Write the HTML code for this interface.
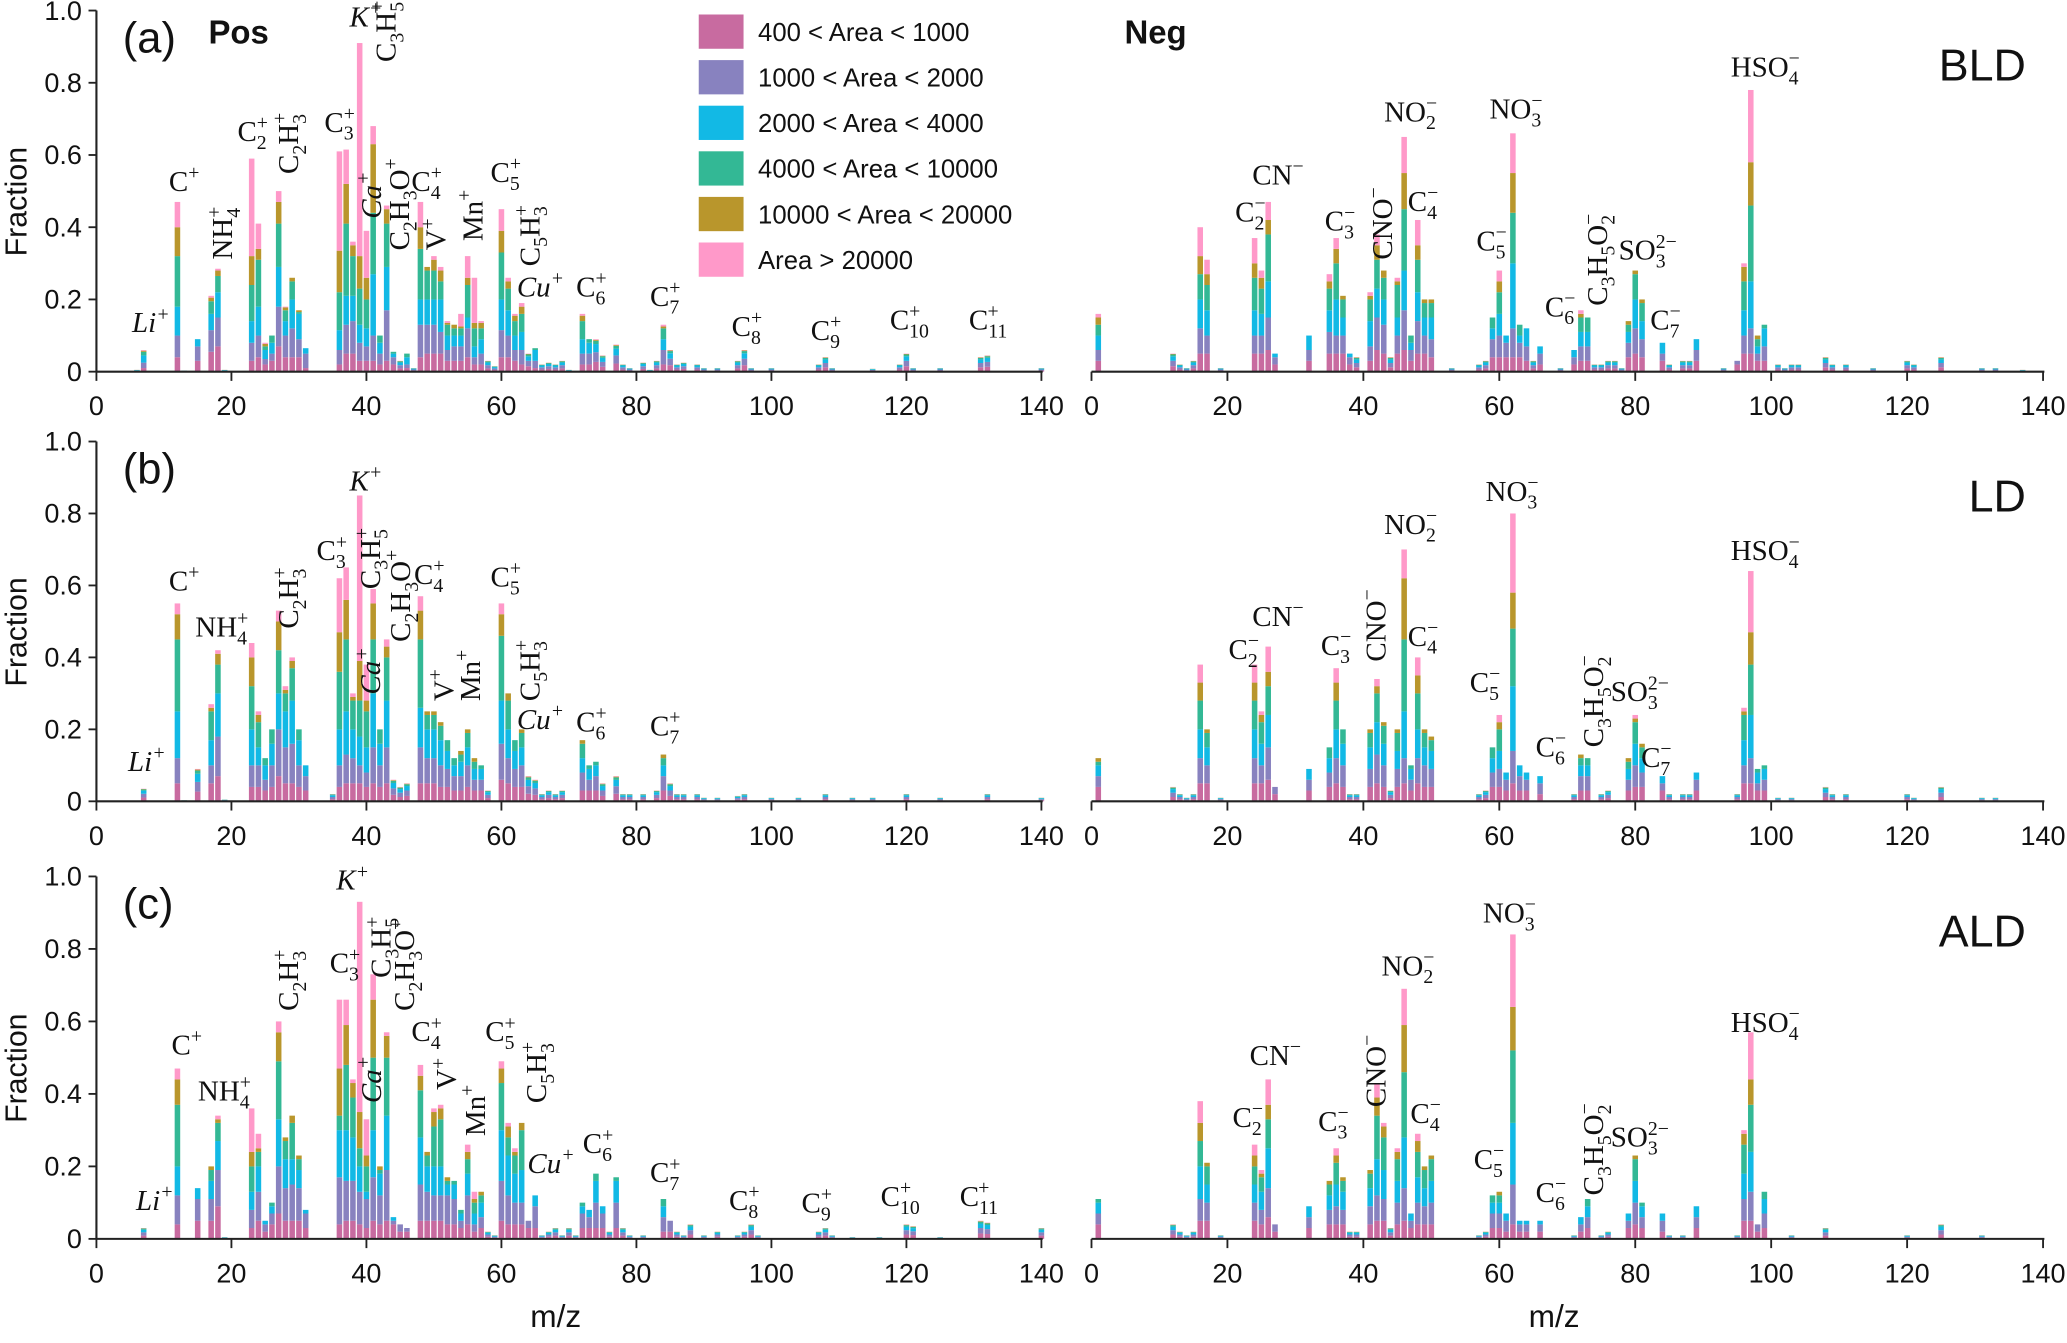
<!DOCTYPE html>
<html><head><meta charset="utf-8">
<style>
html,body{margin:0;padding:0;background:#fff;}
svg{display:block;}
.tk{font-family:"Liberation Sans",sans-serif;font-size:20.5px;fill:#111;}
.lab{font-family:"Liberation Serif",serif;font-size:22px;fill:#111;}
</style></head>
<body>
<svg id="chart" width="2067" height="1343" viewBox="0 0 1568 1019" xmlns="http://www.w3.org/2000/svg">
<g id="bars"></g>
<g id="axes"></g>
<g id="labels"></g>
</svg>
<script>
// ---------- DATA (cumulative stack tops: 400-1000, 1000-2000, 2000-4000, 4000-10000, 10000-20000, >20000) ----------
const xTicks = [0,20,40,60,80,100,120,140];
const yTicks = [0,0.2,0.4,0.6,0.8,1.0];
const yTickLabels = ["0","0.2","0.4","0.6","0.8","1.0"];
const legendLabels = ["400 < Area < 1000","1000 < Area < 2000","2000 < Area < 4000","4000 < Area < 10000","10000 < Area < 20000","Area > 20000"];
const defaultProfile = [0.3,0.6,0.85,0.95,0.98,1];

const posA = [[6,.005],[7,.01,.025,.045,.055,.058,.06],[12,.04,.1,.18,.32,.4,.47],[13,.003],[15,.03,.07,.09],[17,.055,.115,.16,.195,.205,.21],[18,.07,.15,.22,.265,.28,.285],[19,.005],[22,.002],[23,.03,.08,.14,.24,.32,.59],[24,.04,.1,.18,.31,.34,.41],[25,.02,.035,.06,.07,.077,.08],[26,.03,.05,.08,.1],[27,.07,.18,.29,.41,.47,.5],[28,.04,.1,.14,.17,.178,.18],[29,.04,.12,.2,.25,.26],[30,.04,.09,.16,.165,.17],[31,.01,.05,.065],[36,.02,.06,.115,.22,.335,.61],[37,.05,.13,.21,.41,.52,.615],[38,.05,.14,.21,.32,.35,.36],[39,.03,.08,.13,.23,.32,.91],[40,.03,.07,.12,.2,.26,.39],[41,.03,.1,.27,.44,.63,.68],[42,.02,.05,.08,.1],[43,.03,.17,.29,.41,.45,.46],[44,.02,.04,.05,.055],[45,.03],[46,.01,.02,.04,.05],[47,.01],[48,.04,.13,.2,.34,.4,.47],[49,.05,.13,.2,.28,.29],[50,.05,.13,.2,.28,.31,.32],[51,.05,.11,.2,.25,.28,.29],[52,.03,.06,.1,.13,.135,.14],[53,.03,.07,.1,.12,.13],[54,.03,.07,.1,.12,.125,.16],[55,.04,.12,.15,.24,.26,.32],[56,.02,.04,.07,.12,.135,.26],[57,.02,.05,.09,.12,.135,.14],[58,.03],[59,.015],[60,.04,.115,.2,.33,.39,.45],[61,.04,.1,.17,.23,.25,.26],[62,.03,.06,.1,.14,.155,.16],[63,.02,.06,.11,.16,.18,.19],[64,.05],[65,.01,.03,.06,.065],[66,.02],[67,.025],[68,.02],[69,.03],[70,.005],[72,.02,.05,.09,.14,.155,.16],[73,.02,.05,.08,.09],[74,.09],[75,.045],[77,.075],[78,.02],[79,.01],[81,.025],[82,.005],[83,.03],[84,.02,.06,.09,.12,.125,.13],[85,.06],[86,.02],[87,.025],[89,.02],[90,.01],[92,.01],[95,.03],[96,.06],[97,.01],[100,.01],[107,.02],[108,.04],[109,.01],[115,.008],[119,.02],[120,.05],[121,.01],[125,.01],[131,.04],[132,.045],[140,.01]];

const negA = [[1,.03,.06,.1,.13,.15,.16],[12,.05],[13,.02],[14,.01],[15,.03],[16,.05,.12,.2,.27,.32,.4],[17,.05,.1,.17,.24,.27,.31],[19,.01],[24,.05,.1,.17,.26,.3,.37],[25,.05,.1,.16,.23,.26,.28],[26,.06,.15,.25,.38,.42,.47],[27,.02,.04,.05],[32,.03,.06,.1],[35,.05,.11,.17,.23,.25,.27],[36,.05,.1,.2,.3,.34,.37],[37,.05,.1,.15,.2,.21],[38,.02,.04,.05],[39,.04],[41,.03,.07,.14,.2,.21,.22],[42,.06,.15,.23,.31,.35,.38],[43,.05,.13,.2,.26,.28],[44,.04],[45,.05,.1,.15,.24,.25,.26],[46,.06,.17,.28,.45,.55,.65],[47,.03,.06,.08,.1],[48,.05,.14,.22,.31,.35,.42],[49,.05,.1,.15,.19,.2],[50,.04,.09,.15,.19,.2],[53,.01],[57,.02],[58,.03],[59,.04,.09,.12,.15],[60,.04,.1,.16,.22,.25,.28],[61,.04,.08,.1],[62,.04,.12,.3,.44,.55,.66],[63,.04,.08,.1,.13],[64,.03,.07,.12],[65,.03],[66,.02,.05,.07],[69,.01],[71,.02,.04,.06],[72,.03,.07,.11,.15,.16,.17],[73,.03,.07,.11,.15],[74,.02],[75,.02],[76,.03],[77,.03],[78,.01],[79,.04,.08,.11,.13,.14],[80,.05,.12,.2,.27,.28],[81,.04,.09,.14,.19,.2],[84,.03,.05,.08],[85,.02],[87,.03],[88,.03],[89,.03,.06,.09],[93,.01],[95,.02,.03],[96,.05,.1,.17,.25,.29,.3],[97,.05,.12,.25,.46,.58,.78],[98,.03,.05,.07,.09,.1],[99,.03,.07,.12,.13],[101,.02],[102,.01],[103,.02],[104,.02],[108,.04],[109,.02],[111,.02],[115,.01],[120,.03],[121,.02],[125,.04],[131,.01],[133,.01],[137,.005]];

const posB = [[7,.035],[12,.05,.12,.25,.45,.52,.55],[13,.003],[15,.09],[17,.05,.1,.17,.25,.26,.27],[18,.07,.18,.3,.38,.41,.42],[19,.005],[23,.04,.1,.2,.32,.4,.44],[24,.04,.1,.15,.22,.24,.25],[25,.03,.06,.1,.12],[26,.04,.1,.16,.2],[27,.07,.2,.3,.42,.5,.53],[28,.05,.15,.25,.3,.31,.32],[29,.05,.16,.28,.37,.39,.4],[30,.04,.1,.17,.2],[31,.03,.07,.1],[35,.02],[36,.04,.1,.2,.36,.47,.62],[37,.05,.13,.25,.45,.56,.65],[38,.05,.12,.2,.28,.29,.3],[39,.05,.1,.18,.28,.39,.85],[40,.04,.08,.15,.25,.28,.38],[41,.05,.15,.3,.45,.55,.59],[42,.04,.1,.16,.2],[43,.05,.15,.28,.4,.43,.45],[44,.06],[45,.04],[46,.05],[48,.05,.15,.26,.45,.53,.57],[49,.05,.12,.2,.24,.25],[50,.05,.12,.2,.24,.25],[51,.04,.1,.17,.21,.22],[52,.04,.09,.14,.17],[53,.03,.07,.1,.12],[54,.03,.07,.11,.13,.14],[55,.04,.1,.15,.19,.2],[56,.03,.06,.09,.11,.12],[57,.03,.06,.09,.1],[58,.03],[60,.06,.16,.28,.46,.52,.55],[61,.05,.12,.2,.28,.3],[62,.04,.09,.14,.17],[63,.04,.1,.15,.19,.2],[64,.07],[65,.06],[66,.02],[67,.03],[68,.02],[69,.03],[72,.03,.08,.12,.16,.17],[73,.03,.06,.09,.1],[74,.03,.07,.1,.11],[75,.05],[77,.07],[78,.02],[79,.02],[81,.02],[83,.03],[84,.03,.07,.1,.12,.13],[85,.05],[86,.02],[87,.02],[89,.02],[90,.01],[92,.01],[95,.015],[96,.02],[100,.01],[104,.01],[108,.02],[112,.01],[115,.01],[120,.02],[125,.01],[132,.02],[140,.01]];

const negB = [[1,.04,.07,.1,.11,.12],[12,.04],[13,.02],[14,.01],[15,.02],[16,.05,.12,.2,.28,.33,.38],[17,.05,.1,.15,.19,.2],[19,.01],[24,.05,.12,.2,.28,.33,.38],[25,.05,.1,.16,.22,.24,.25],[26,.06,.15,.24,.32,.36,.43],[27,.02,.04],[32,.03,.06,.09],[35,.04,.08,.12,.15],[36,.05,.12,.2,.28,.33,.37],[37,.04,.1,.16,.2],[38,.02],[39,.02],[41,.04,.09,.15,.19,.2],[42,.05,.13,.22,.3,.32,.34],[43,.04,.1,.16,.21,.22],[44,.03],[45,.04,.09,.14,.19,.2],[46,.05,.12,.25,.45,.62,.7],[47,.03,.06,.09,.1],[48,.05,.12,.2,.3,.35,.4],[49,.04,.1,.15,.19,.2],[50,.04,.09,.14,.17,.18],[57,.02],[58,.03],[59,.04,.08,.12,.15],[60,.04,.09,.14,.2,.22,.24],[61,.03,.06,.08],[62,.05,.14,.32,.48,.58,.8],[63,.03,.07,.1],[64,.03,.06,.08],[66,.02,.05,.07],[71,.02],[72,.03,.07,.1,.12,.13],[73,.03,.07,.1,.12],[75,.02],[76,.03],[79,.03,.06,.09,.11,.12],[80,.04,.1,.16,.22,.23,.24],[81,.04,.08,.12,.15,.16],[84,.03,.05,.07],[85,.02],[87,.02],[88,.02],[89,.03,.06,.08],[95,.02],[96,.05,.1,.17,.24,.25,.26],[97,.05,.12,.24,.38,.47,.64],[98,.03,.05,.08,.09],[99,.03,.06,.09,.1],[101,.01],[103,.01],[108,.04],[109,.02],[111,.02],[120,.02],[121,.01],[125,.04],[131,.01],[133,.01]];

const posC = [[7,.03],[12,.04,.12,.2,.37,.44,.47],[15,.05,.11,.14],[17,.05,.11,.16,.19,.2],[18,.09,.19,.27,.32,.33,.34],[19,.005],[23,.03,.08,.13,.2,.24,.36],[24,.05,.13,.2,.24,.25,.29],[25,.02,.04,.05],[26,.04,.07,.09,.1],[27,.07,.2,.33,.49,.57,.6],[28,.05,.14,.22,.27,.28],[29,.05,.15,.22,.32,.34],[30,.05,.14,.19,.22,.23],[31,.03,.07,.08],[36,.04,.17,.3,.34,.47,.66],[37,.05,.16,.3,.48,.59,.66],[38,.05,.16,.28,.39,.43,.44],[39,.04,.13,.2,.25,.35,.93],[40,.03,.11,.13,.2,.23,.33],[41,.05,.17,.3,.5,.66,.73],[42,.04,.12,.18,.19,.2],[43,.05,.19,.34,.5,.56,.57],[44,.04,.05,.06],[45,.02,.04],[46,.02,.03],[48,.05,.15,.28,.41,.45,.48],[49,.05,.13,.2,.23,.24],[50,.05,.12,.2,.31,.35,.36],[51,.05,.12,.2,.33,.36,.37],[52,.04,.12,.15,.16,.17],[53,.04,.11,.15,.16],[54,.03,.05,.07,.08],[55,.04,.12,.18,.22,.24,.26],[56,.02,.04,.07,.1,.11,.13],[57,.03,.06,.1,.12,.13],[58,.02],[59,.01],[60,.05,.16,.3,.43,.47,.49],[61,.04,.12,.23,.28,.31,.32],[62,.04,.1,.18,.23,.24,.25],[63,.04,.1,.19,.3,.32,.32],[64,.03,.05],[65,.03,.09,.12],[66,.01],[67,.02],[68,.03],[69,.01],[70,.03],[71,.01],[72,.03,.07,.09,.1],[73,.03,.06,.08],[74,.03,.1,.16,.18],[75,.03,.07,.09],[76,.02],[77,.03,.1,.16,.17],[78,.03],[79,.01],[81,.01],[84,.02,.06,.09,.11],[85,.02,.05],[86,.02],[87,.01],[88,.04],[90,.01],[92,.02],[95,.01],[96,.02],[97,.04],[98,.01],[107,.02],[108,.03],[109,.01],[112,.005],[116,.005],[120,.04],[121,.035],[125,.005],[131,.05],[132,.045],[140,.03]];

const negC = [[1,.04,.07,.1,.11],[12,.04],[13,.02],[14,.01],[15,.02],[16,.05,.11,.2,.27,.32,.38],[17,.05,.1,.15,.2,.21],[19,.01],[24,.05,.1,.15,.2,.23,.26],[25,.04,.08,.13,.17,.18,.19],[26,.06,.14,.25,.33,.37,.44],[27,.02,.04],[32,.03,.06,.09],[35,.04,.08,.12,.15,.16],[36,.04,.09,.15,.21,.23,.25],[37,.04,.08,.13,.16,.17],[38,.02],[39,.02],[41,.04,.09,.14,.18,.19],[42,.05,.12,.22,.34,.39,.43],[43,.05,.11,.19,.28,.31,.32],[44,.03],[45,.04,.1,.16,.22,.24,.25],[46,.05,.14,.28,.46,.59,.69],[47,.03,.05,.07],[48,.04,.1,.17,.24,.27,.29],[49,.04,.09,.14,.19,.2],[50,.04,.1,.16,.22,.23],[57,.01],[58,.02],[59,.03,.07,.1,.12],[60,.03,.07,.1,.12,.13],[61,.02,.05,.07],[62,.04,.15,.32,.52,.64,.84],[63,.02,.04,.05],[64,.02,.04,.05],[66,.02,.04,.05],[71,.01],[72,.02,.04,.06],[73,.03,.06,.09,.11],[75,.01],[76,.02],[79,.03,.05,.07],[80,.04,.1,.16,.22,.23],[81,.03,.06,.09,.1],[84,.02,.05,.07],[85,.01],[87,.01],[89,.03,.06,.09],[95,.01],[96,.05,.11,.18,.26,.29,.3],[97,.05,.13,.24,.37,.44,.57],[98,.02,.04],[99,.03,.07,.11,.13],[103,.01],[108,.03],[120,.01],[125,.04],[131,.01]];

const colors = ["#c86ba0","#8882bf","#12b9e5","#33b895","#b9962c","#ff99c9"];

// ---------- LAYOUT ----------
const panels = [
  {name:"a", pos:posA, neg:negA, y0:282, y1:8, tag:"(a)", site:"BLD"},
  {name:"b", pos:posB, neg:negB, y0:608, y1:335, tag:"(b)", site:"LD"},
  {name:"c", pos:posC, neg:negC, y0:940, y1:665, tag:"(c)", site:"ALD"}
];
const posX = v => 73 + v*(790-73)/140;
const negX = v => 828 + v*(1550-828)/140;
const NS = "http://www.w3.org/2000/svg";
const gBars = document.getElementById('bars'), gAxes = document.getElementById('axes'), gLab = document.getElementById('labels');
function mk(tag, attrs, parent){const e=document.createElementNS(NS,tag);for(const k in attrs)e.setAttribute(k,attrs[k]);parent.appendChild(e);return e;}

function drawBars(rows, xf, y0, y1, side, pn){
  const yf = v => y0 - v*(y0-y1);
  rows.forEach(r=>{
    const mz=r[0]; let cum=r.slice(1);
    if(cum.length===1){const t=cum[0]; cum=defaultProfile.map(p=>p*t);}
    let prev=0;
    const bw=4.2;
    cum.forEach((c,i)=>{
      if(c<=prev) return;
      const rect=mk('rect',{x:(xf(mz)-bw/2).toFixed(2),y:yf(c).toFixed(2),width:bw,height:(yf(prev)-yf(c)).toFixed(2),fill:colors[i]},gBars);
      
      
      prev=c;
    });
  });
}

function drawAxis(xf, y0, y1, withY, side, pn){
  const g=mk('g',{},gAxes);
  
  
  mk('line',{x1:xf(0),x2:xf(140)+1,y1:y0,y2:y0,stroke:"#222","stroke-width":1.6},g);
  xTicks.forEach(t=>{
    mk('line',{x1:xf(t),x2:xf(t),y1:y0,y2:y0+7,stroke:"#222","stroke-width":1.4},g);
    const tx=mk('text',{x:xf(t),y:y0+33,"text-anchor":"middle",class:"tk"},g);
    tx.textContent=t;
    
    
  });
  if(withY){
    const yf=v=>y0-v*(y0-y1);
    mk('line',{x1:xf(0),x2:xf(0),y1:y0,y2:y1,stroke:"#222","stroke-width":1.6},g);
    yTicks.forEach((t,i)=>{
      mk('line',{x1:xf(0)-6,x2:xf(0),y1:yf(t),y2:yf(t),stroke:"#222","stroke-width":1.4},g);
      const tx=mk('text',{x:xf(0)-11,y:yf(t)+7,"text-anchor":"end",class:"tk"},g);
      tx.textContent=yTickLabels[i];
      
      
    });
    const ft=mk('text',{transform:`translate(20,${(y0+y1)/2+8}) rotate(-90)`,"text-anchor":"middle",class:"tk",style:"font-size:23px"},g);
    ft.textContent="Fraction";
    
    
  }
}

panels.forEach(p=>{
  drawBars(p.pos,posX,p.y0,p.y1,'pos',p.name);
  drawBars(p.neg,negX,p.y0,p.y1,'neg',p.name);
  drawAxis(posX,p.y0,p.y1,true,'pos',p.name);
  drawAxis(negX,p.y0,p.y1,false,'neg',p.name);
  const t=mk('text',{x:93,y:p.y1+32,class:"tk",style:"font-size:33px"},gLab);
  t.textContent=p.tag;
  
  
  const s=mk('text',{x:1537,y:p.y1+53,"text-anchor":"end",class:"tk",style:"font-size:34px"},gLab);
  s.textContent=p.site;
  
  
});

[posX(70),negX(70)].forEach(x=>{
  const t=mk('text',{x:x-10,y:1007,"text-anchor":"middle",class:"tk",style:"font-size:24px"},gLab);
  t.textContent="m/z";
  
  
});
[["Pos",158],["Neg",853]].forEach(a=>{
  const t=mk('text',{x:a[1],y:33,class:"tk",style:"font-size:25px;font-weight:bold"},gLab);
  t.textContent=a[0];
  
  
});
legendLabels.forEach((l,i)=>{
  const cy=24+i*34.6;
  const r=mk('rect',{x:530,y:cy-13,width:34,height:26,fill:colors[i]},gLab);
  
  
  const t=mk('text',{x:575,y:cy+7,class:"tk",style:"font-size:19.5px"},gLab);
  t.textContent=l;
  
  
});

// ---------- peak labels ----------
function chem(str, x, y, rot, italic){
  const t=mk('text',{class:"lab"},gLab);
  
  
  if(rot) t.setAttribute('transform',`translate(${x},${y}) rotate(-90)`); else {t.setAttribute('x',x);t.setAttribute('y',y);}
  if(italic) t.setAttribute('font-style','italic');
  const re=/([^_^]+)|_\{([^}]*)\}|\^\{([^}]*)\}/g; let m; let cur=0; let lastSub=0;
  function add(txt,off,small,dx){
    const sp=document.createElementNS(NS,'tspan');
    sp.textContent=txt;
    if(off!==cur){sp.setAttribute('dy',off-cur);cur=off;}
    if(small) sp.setAttribute('font-size','15');
    if(dx) sp.setAttribute('dx',dx);
    t.appendChild(sp);
  }
  while((m=re.exec(str))){
    if(m[1]!==undefined){add(m[1],0,false);lastSub=0;}
    else if(m[2]!==undefined){add(m[2],6,true);lastSub=m[2].length;}
    else {add(m[3],-9,true,lastSub?(-7.5*lastSub).toFixed(1):0);lastSub=0;}
  }
  return t;
}
const peakLabels = [
 ["Li^{+}",100,252,0,1],["C^{+}",128,145,0],["NH_{4}^{+}",176,197,1],["C_{2}^{+}",180,107,0],["C_{2}H_{3}^{+}",226,132,1],["C_{3}^{+}",246,100,0],
 ["K^{+}",265,20,0,1],["C_{3}H_{5}^{+}",300,47,1],["Ca^{+}",289,166,1,1],["C_{2}H_{3}O^{+}",310,190,1],["C_{4}^{+}",312,145,0],["V^{+}",338,190,1],["Mn^{+}",366,183,1],
 ["C_{5}^{+}",372,138,0],["C_{5}H_{3}^{+}",409,202,1],["Cu^{+}",392,225,0,1],["C_{6}^{+}",437,225,0],["C_{7}^{+}",493,232,0],["C_{8}^{+}",555,255,0],["C_{9}^{+}",615,258,0],["C_{10}^{+}",675,250,0],["C_{11}^{+}",735,250,0],
 ["C_{2}^{−}",937,168,0],["CN^{−}",950,140,0],["C_{3}^{−}",1005,175,0],["CNO^{−}",1056,197,1],["NO_{2}^{−}",1050,92,0],["C_{4}^{−}",1068,160,0],["C_{5}^{−}",1120,190,0],["NO_{3}^{−}",1130,90,0],
 ["C_{6}^{−}",1172,240,0],["C_{3}H_{5}O_{2}^{−}",1219,232,1],["SO_{3}^{2−}",1228,197,0],["C_{7}^{−}",1252,250,0],["HSO_{4}^{−}",1313,58,0],
 ["Li^{+}",97,585,0,1],["C^{+}",128,448,0],["NH_{4}^{+}",148,483,0],["C_{2}H_{3}^{+}",226,477,1],["C_{3}^{+}",240,425,0],["K^{+}",265,372,0,1],["C_{3}H_{5}^{+}",288,447,1],
 ["Ca^{+}",288,527,1,1],["C_{2}H_{3}O^{+}",311,487,1],["C_{4}^{+}",314,443,0],["V^{+}",344,532,1],["Mn^{+}",364,532,1],["C_{5}^{+}",372,445,0],["C_{5}H_{3}^{+}",409,532,1],
 ["Cu^{+}",392,553,0,1],["C_{6}^{+}",437,555,0],["C_{7}^{+}",493,558,0],
 ["C_{2}^{−}",932,500,0],["CN^{−}",950,475,0],["C_{3}^{−}",1002,497,0],["CNO^{−}",1051,502,1],["NO_{2}^{−}",1050,405,0],["C_{4}^{−}",1068,490,0],["C_{5}^{−}",1115,525,0],["NO_{3}^{−}",1127,380,0],
 ["C_{6}^{−}",1165,574,0],["C_{3}H_{5}O_{2}^{−}",1216,567,1],["SO_{3}^{2−}",1222,532,0],["C_{7}^{−}",1245,582,0],["HSO_{4}^{−}",1313,425,0],
 ["Li^{+}",103,918,0,1],["C^{+}",130,800,0],["NH_{4}^{+}",150,835,0],["C_{2}H_{3}^{+}",226,767,1],["C_{3}^{+}",250,738,0],["K^{+}",255,675,0,1],["C_{3}H_{5}^{+}",296,742,1],
 ["Ca^{+}",289,837,1,1],["C_{2}H_{3}O^{+}",314,767,1],["C_{4}^{+}",312,790,0],["V^{+}",346,827,1],["Mn^{+}",368,862,1],["C_{5}^{+}",368,790,0],["C_{5}H_{3}^{+}",414,837,1],
 ["Cu^{+}",400,890,0,1],["C_{6}^{+}",442,875,0],["C_{7}^{+}",493,897,0],["C_{8}^{+}",553,918,0],["C_{9}^{+}",608,920,0],["C_{10}^{+}",668,915,0],["C_{11}^{+}",728,915,0],
 ["C_{2}^{−}",935,855,0],["CN^{−}",948,808,0],["C_{3}^{−}",1000,858,0],["CNO^{−}",1051,840,1],["NO_{2}^{−}",1048,740,0],["C_{4}^{−}",1070,852,0],["C_{5}^{−}",1118,887,0],["NO_{3}^{−}",1125,700,0],
 ["C_{6}^{−}",1165,912,0],["C_{3}H_{5}O_{2}^{−}",1216,907,1],["SO_{3}^{2−}",1222,870,0],["HSO_{4}^{−}",1313,783,0]
];
peakLabels.forEach(l=>chem(l[0],l[1],l[2],l[3],l[4]));
</script>
</body></html>
